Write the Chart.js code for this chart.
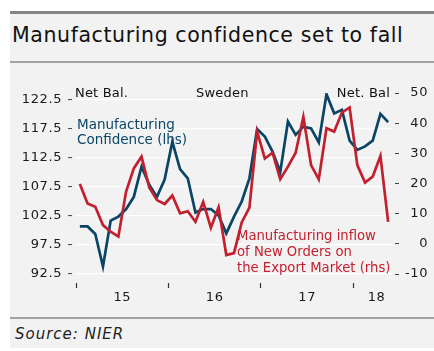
<!DOCTYPE html>
<html>
<head>
<meta charset="utf-8">
<script src="https://cdn.jsdelivr.net/npm/chart.js@4.4.1/dist/chart.umd.min.js"></script>
<style>
html,body{margin:0;padding:0;background:#fff;width:434px;height:351px;overflow:hidden;font-family:"DejaVu Sans",sans-serif;}
.abs{position:absolute;}
#bg{left:10px;top:11px;width:424px;height:337px;background:#f2f2f2;}
#topline{left:10px;top:11px;width:424px;height:3px;background:#858585;}
#title{left:12px;top:25.4px;font-size:20.5px;line-height:20.5px;letter-spacing:0.6px;color:#111;white-space:nowrap;}
#sep1{left:10px;top:61px;width:424px;height:2px;background:#a3a3a3;}
#sep2{left:10px;top:317px;width:424px;height:2px;background:#a3a3a3;}
#source{left:15px;top:327.3px;font-size:15px;line-height:15px;font-style:italic;letter-spacing:1px;color:#222;white-space:nowrap;}
#wrap{left:10px;top:63px;width:424px;height:254px;}
.small{font-size:13px;line-height:13px;color:#111;white-space:nowrap;letter-spacing:0.2px;}
#lblL{left:75px;top:86.3px;}
#lblC{left:196px;top:86.3px;}
#lblR{right:44px;top:86.3px;}
#annBlue{left:77px;top:116.8px;font-size:13.5px;line-height:15px;color:#0a4566;white-space:nowrap;}
#annRed{left:237px;top:228.1px;font-size:13.2px;line-height:16px;color:#c3202f;white-space:nowrap;}
</style>
</head>
<body>
<div id="bg" class="abs"></div>
<div id="topline" class="abs"></div>
<div id="title" class="abs">Manufacturing confidence set to fall</div>
<div id="sep1" class="abs"></div>
<div id="wrap" class="abs"><canvas id="c" width="424" height="254"></canvas></div>
<div id="lblL" class="abs small">Net Bal.</div>
<div id="lblC" class="abs small">Sweden</div>
<div id="lblR" class="abs small">Net. Bal</div>
<div id="annBlue" class="abs">Manufacturing<br>Confidence (lhs)</div>
<div id="annRed" class="abs">Manufacturing inflow<br>of New Orders on<br>the Export Market (rhs)</div>
<div id="sep2" class="abs"></div>
<div id="source" class="abs">Source: NIER</div>
<script>
// Categories (monthly, Jan 2015 - May 2018)
const months = [
  'Jan 15','Feb 15','Mar 15','Apr 15','May 15','Jun 15','Jul 15','Aug 15','Sep 15','Oct 15','Nov 15','Dec 15',
  'Jan 16','Feb 16','Mar 16','Apr 16','May 16','Jun 16','Jul 16','Aug 16','Sep 16','Oct 16','Nov 16','Dec 16',
  'Jan 17','Feb 17','Mar 17','Apr 17','May 17','Jun 17','Jul 17','Aug 17','Sep 17','Oct 17','Nov 17','Dec 17',
  'Jan 18','Feb 18','Mar 18','Apr 18','May 18'
];
// Manufacturing confidence (lhs)
const confidence = [
  100.7,100.7,99.4,93.8,101.7,102.4,103.7,105.8,111.0,107.9,105.8,108.8,
  115.3,110.6,109.0,103.1,103.7,103.7,102.6,99.5,102.4,105.0,109.0,117.5,
  116.2,113.6,110.1,118.8,116.5,117.9,117.6,115.2,123.5,120.2,120.8,115.5,
  113.9,114.5,115.5,120.1,118.7
];
// Manufacturing inflow of new orders on the export market (rhs)
const exportOrders = [
  19.8,13.4,12.3,6.2,4.0,2.4,17.3,25.0,28.9,18.7,14.5,13.2,
  16.0,10.1,10.8,7.3,13.9,5.3,12.1,-3.7,-3.1,7.1,12.0,37.2,
  28.3,30.2,21.4,25.6,30.2,42.1,26.1,21.4,38.3,37.2,43.5,45.2,
  26.1,20.3,22.3,29.1,7.3
];
// Tick labels
const yearLabels = ['15','16','17','18'];
const yearLabelAt = ['Jul 15','Jul 16','Jul 17','Apr 18'];
const yearStarts = ['Jan 15','Jan 16','Jan 17','Jan 18'];
const leftLabels = ['92.5','97.5','102.5','107.5','112.5','117.5','122.5'];
const rightLabels = ['-10','0','10','20','30','40','50'];

const BLUE = '#0a4566';
const RED = '#c3202f';
const FONT = 'DejaVu Sans';
Chart.defaults.font.family = FONT;
Chart.defaults.font.size = 13;
Chart.defaults.color = '#1a1a1a';

const spacingPlugin = {
  id: 'spacing',
  beforeDraw(chart) { chart.ctx.letterSpacing = '0.6px'; }
};

new Chart(document.getElementById('c'), {
  type: 'line',
  data: {
    labels: months,
    datasets: [
      {label:'Manufacturing Confidence (lhs)', data: confidence, yAxisID:'y', borderColor: BLUE, borderWidth: 2.7, pointRadius: 0, tension: 0, order: 1},
      {label:'Manufacturing inflow of New Orders on the Export Market (rhs)', data: exportOrders, yAxisID:'y2', borderColor: RED, borderWidth: 2.7, pointRadius: 0, tension: 0, order: 0}
    ]
  },
  plugins: [spacingPlugin],
  options: {
    responsive: false,
    animation: false,
    devicePixelRatio: 1,
    layout: {padding: {top: 30, right: 6, left: 0, bottom: 0}},
    plugins: {legend: {display: false}, tooltip: {enabled: false}},
    scales: {
      x: {
        type: 'category',
        offset: true,
        border: {display: false},
        grid: {
          offset: true,
          drawOnChartArea: false,
          tickLength: 14,
          tickWidth: 1.2,
          tickBorderDash: [5, 100],
          tickBorderDashOffset: 96,
          tickColor: (ctx) => (ctx.index !== undefined && yearStarts.includes(months[ctx.index])) ? '#333' : 'rgba(0,0,0,0)'
        },
        ticks: {
          autoSkip: false, maxRotation: 0, minRotation: 0, padding: 2, labelOffset: -3.84,
          callback: (v, i) => { const k = yearLabelAt.indexOf(months[i]); return k >= 0 ? yearLabels[k] : ''; }
        },
        afterFit: (s) => { s.height = 43; }
      },
      y: {
        position: 'left',
        min: 92.5, max: 123.71,
        border: {display: false},
        grid: {color: '#ffffff', lineWidth: 1.2, tickLength: 8, tickBorderDash: [4, 100], tickColor: '#444', tickWidth: 1},
        ticks: {
          stepSize: 2.5, includeBounds: false, padding: 6,
          callback: (v) => { const s = v.toFixed(1); return leftLabels.includes(s) ? s : ''; }
        },
        afterFit: (s) => { s.width = 66; }
      },
      y2: {
        position: 'right',
        min: -10, max: 50,
        border: {display: false},
        grid: {drawOnChartArea: false, tickLength: 7, tickBorderDash: [4, 100], tickBorderDashOffset: 101, tickColor: '#444', tickWidth: 1},
        ticks: {
          stepSize: 10, crossAlign: 'far',
          callback: (v) => { const s = String(v); return rightLabels.includes(s) ? s : ''; }
        },
        afterFit: (s) => { s.width = 36; }
      }
    }
  }
});
</script>
</body>
</html>
